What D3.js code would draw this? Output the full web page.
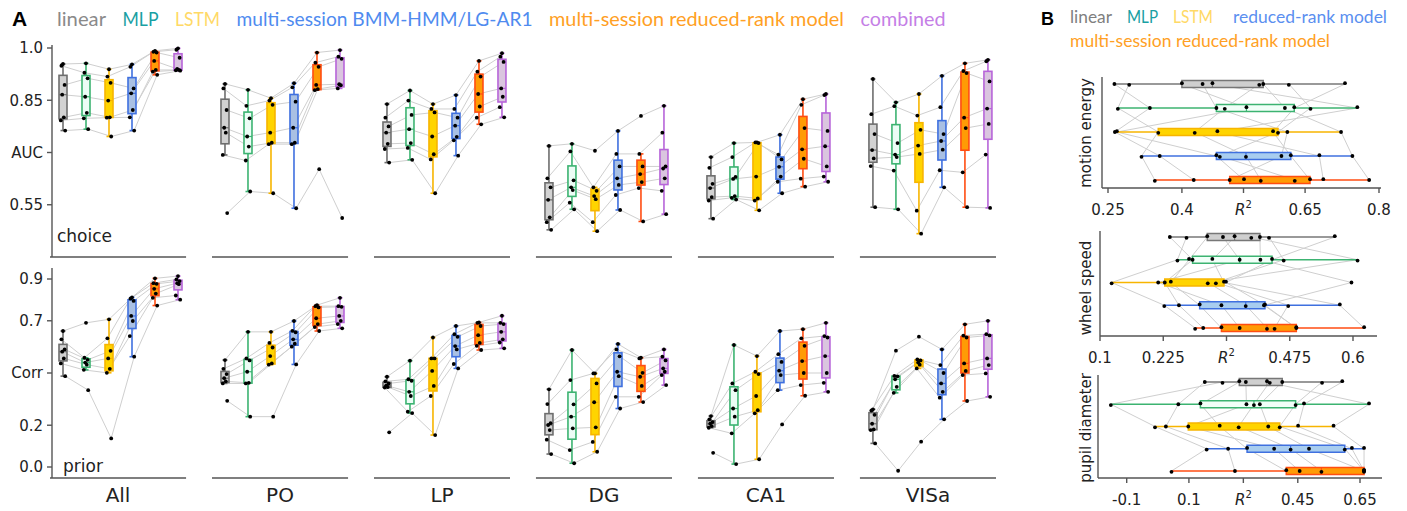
<!DOCTYPE html>
<html><head><meta charset="utf-8">
<script src="https://cdn.jsdelivr.net/npm/d3@7"></script>
<style>body{margin:0;background:#fff}svg{display:block}</style>
</head><body>
<svg id="c" width="1407" height="511"></svg>
<script>
// ---------------- DATA ----------------
const models = ["linear","MLP","LSTM","multi-session BMM-HMM/LG-AR1","multi-session reduced-rank model","combined"];
const regions = ["All","PO","LP","DG","CA1","VISa"];

// choice AUC: per region, 6 models x 7 sessions
const choice_All = [
 [.954,.949,.894,.866,.801,.792,.763],
 [.956,.929,.913,.86,.814,.798,.767],
 [.939,.918,.900,.849,.801,.800,.746],
 [.953,.946,.884,.870,.822,.801,.763],
 [.992,.989,.987,.963,.937,.932,.923],
 [.999,.995,.972,.94,.937,.936,.935]];
const choice_PO = [
 [.897,.884,.822,.771,.757,.693,.526],
 [.88,.834,.798,.746,.717,.677,.588],
 [.856,.849,.837,.757,.728,.724,.583],
 [.899,.887,.846,.771,.728,.724,.54],
 [.987,.958,.946,.894,.882,.879,.652],
 [.994,.975,.969,.896,.893,.884,.512]];
const choice_LP = [
 [.839,.80,.775,.757,.725,.71,.671],
 [.878,.849,.808,.767,.727,.713,.679],
 [.839,.825,.815,.746,.695,.68,.583],
 [.865,.825,.80,.777,.745,.735,.691],
 [.963,.932,.918,.868,.832,.80,.781],
 [.985,.975,.96,.884,.86,.83,.801]];
const choice_DG = [
 [.719,.626,.60,.564,.514,.50,.478],
 [.725,.703,.62,.60,.592,.556,.537],
 [.705,.60,.59,.575,.566,.50,.474],
 [.762,.696,.66,.626,.607,.578,.535],
 [.805,.696,.66,.638,.615,.598,.502],
 [.834,.757,.66,.654,.626,.59,.523]];
const choice_CA1 = [
 [.687,.656,.61,.598,.572,.562,.51],
 [.727,.687,.630,.624,.575,.570,.565],
 [.729,.729,.727,.631,.568,.562,.534],
 [.751,.694,.68,.659,.631,.616,.583],
 [.853,.837,.77,.709,.682,.625,.602],
 [.868,.865,.762,.718,.66,.631,.616]];
const choice_VISa = [
 [.911,.81,.753,.707,.683,.661,.543],
 [.844,.833,.727,.694,.687,.648,.537],
 [.868,.806,.765,.72,.696,.533,.467],
 [.92,.83,.753,.733,.708,.649,.60],
 [.956,.934,.928,.80,.77,.643,.543],
 [.966,.962,.904,.826,.782,.694,.541]];

// prior correlation
const prior_All = [
 [.651,.611,.563,.552,.52,.496,.435],
 [.69,.523,.513,.50,.49,.465,.368],
 [.707,.616,.556,.52,.47,.451,.137],
 [.812,.806,.795,.723,.699,.627,.528],
 [.903,.88,.877,.853,.83,.81,.773],
 [.914,.898,.89,.88,.875,.821,.801]];
const prior_PO = [
 [.512,.47,.445,.425,.41,.40,.317],
 [.647,.52,.51,.456,.403,.40,.241],
 [.647,.594,.572,.531,.496,.49,.241],
 [.699,.652,.645,.611,.59,.576,.491],
 [.775,.77,.764,.712,.684,.67,.651],
 [.81,.77,.767,.723,.70,.684,.664]];
const prior_LP = [
 [.432,.41,.40,.39,.383,.38,.166],
 [.509,.42,.413,.36,.34,.265,.258],
 [.62,.52,.52,.46,.388,.34,.153],
 [.675,.636,.623,.579,.563,.493,.472],
 [.692,.69,.675,.631,.594,.58,.56],
 [.724,.69,.684,.647,.611,.596,.568]];
const prior_DG = [
 [.372,.301,.21,.201,.177,.131,.062],
 [.56,.416,.30,.241,.185,.081,.018],
 [.448,.448,.40,.31,.19,.12,.073],
 [.589,.563,.53,.456,.435,.336,.28],
 [.523,.52,.451,.432,.388,.336,.311],
 [.563,.528,.51,.472,.456,.44,.392]];
const prior_CA1 = [
 [.244,.228,.215,.207,.196,.188,.068],
 [.584,.40,.368,.28,.241,.161,.014],
 [.531,.456,.445,.34,.272,.257,.037],
 [.651,.54,.503,.461,.44,.368,.204],
 [.66,.616,.58,.507,.45,.392,.341],
 [.69,.627,.62,.531,.45,.403,.36]];
const prior_VISa = [
 [.276,.27,.25,.207,.18,.177,.113],
 [.557,.436,.434,.42,.384,.355,-.018],
 [.624,.515,.51,.50,.49,.472,.121],
 [.563,.488,.45,.40,.36,.332,.228],
 [.683,.629,.62,.496,.46,.44,.316],
 [.70,.636,.63,.52,.488,.448,.336]];

const choiceTicks = [0.55, 0.7, 0.85, 1.0];
const choiceTickLabels = ["0.55","AUC","0.85","1.0"];
const priorTicks = [0.0, 0.2, 0.45, 0.7, 0.9];
const priorTickLabels = ["0.0","0.2","Corr","0.7","0.9"];

// Panel B
const bModels = ["linear","MLP","LSTM","reduced-rank model","multi-session reduced-rank model"];
const motionEnergy = [
 [.263,.293,.40,.442,.462,.557,.565,.617,.731],
 [.335,.27,.531,.47,.756,.487,.609,.661,.628],
 [.264,.352,.268,.614,.472,.426,.723,.595,.585],
 [.355,.318,.47,.602,.679,.53,.746,.477,.621],
 [.424,.345,.526,.497,.687,.56,.78,.629,.66]];
const wheelSpeed = [
 [.238,.271,.312,.343,.366,.399,.416,.434,.564],
 [.283,.253,.276,.376,.322,.609,.417,.463,.44],
 [.228,.123,.24,.215,.345,.313,.597,.329,.349],
 [.256,.227,.297,.34,.574,.388,.424,.472,.426],
 [.304,.288,.34,.376,.622,.43,.488,.445,.488]];
const pupilDiameter = [
 [.151,.208,.262,.283,.351,.36,.40,.528,.593],
 [.066,-.151,.137,.285,.679,.309,.328,.443,.47],
 [.026,-.009,.199,.098,.565,.26,.355,.392,.451],
 [.226,.157,.287,.374,.663,.427,.486,.601,.624],
 [.248,.044,.413,.456,.663,.526,.663,.663,.663]];
const meTicks = [0.25, 0.4, 0.525, 0.65, 0.8];
const meTickLabels = ["0.25","0.4","R2","0.65","0.8"];
const wsTicks = [0.1, 0.225, 0.35, 0.475, 0.6];
const wsTickLabels = ["0.1","0.225","R2","0.475","0.6"];
const pdTicks = [-0.1, 0.1, 0.275, 0.45, 0.65];
const pdTickLabels = ["-0.1","0.1","R2","0.45","0.65"];

// ---------------- STYLES ----------------
const legendColorsA = ["#8a8a8a","#19a0a3","#ffd966","#4f8bef","#ffa024","#c57fe6"];
const legendWidthsA = [49,36,45,296,295,85];
const boxFill = ["#d2d2d2","#ecfdf6","#ffd400","#a9c0e3","#ff9b05","#dac5df"];
const boxStroke = ["#6e6e6e","#3cb371","#f7b500","#3f70df","#ff4d12","#b765d9"];
const bLegendColors = ["#7f7f7f","#19a0a3","#ffd966","#5b8ff0","#ffa024"];
const bBoxFill = ["#cfcfcf","#f1fff8","#ffd400","#a8cdef","#ff9b05"];
const bBoxStroke = ["#777777","#3cb371","#f7b500","#3f70df","#ff4d12"];
const jit = [0,-1.6,1.6,-0.8,0.8,-2.2,2.2];

const svg = d3.select("#c");
const FONT = "DejaVu Sans";

function stats(vals){
  const s = vals.slice().sort(d3.ascending);
  const q1 = d3.quantile(s,.25), med = d3.quantile(s,.5), q3 = d3.quantile(s,.75);
  const iqr = q3-q1;
  const lo = d3.min(s.filter(v=>v>=q1-1.5*iqr));
  const hi = d3.max(s.filter(v=>v<=q3+1.5*iqr));
  return {q1,med,q3,lo,hi};
}

// ---------------- PANEL A ----------------
svg.append("text").attr("x",12).attr("y",26).attr("font-family","Liberation Sans")
  .attr("font-weight","bold").attr("font-size",21).attr("fill","#000").text("A");
let lx = 57;
models.forEach((m,i)=>{
  svg.append("text").attr("x",lx).attr("y",26).attr("font-family","Lato")
    .attr("font-size",20).attr("fill",legendColorsA[i])
    .attr("textLength",legendWidthsA[i]).attr("lengthAdjust","spacingAndGlyphs").text(m);
  lx += legendWidthsA[i] + 16.5;
});

const regionBand = d3.scaleBand().domain(regions).range([50,996]).paddingInner(0.16);
const modelPos = d3.scalePoint().domain(models).range([13,128]);

const rowsA = [
  {data:{All:choice_All,PO:choice_PO,LP:choice_LP,DG:choice_DG,CA1:choice_CA1,VISa:choice_VISa},
   y:d3.scaleLinear().domain([0.4,1.0]).range([257,48]), ticks:choiceTicks, labels:choiceTickLabels,
   top:45, base:257, title:"choice", tx:57, ty:242},
  {data:{All:prior_All,PO:prior_PO,LP:prior_LP,DG:prior_DG,CA1:prior_CA1,VISa:prior_VISa},
   y:d3.scaleLinear().domain([0,0.9]).range([467,279]), ticks:priorTicks, labels:priorTickLabels,
   top:268, base:478, title:"prior", tx:63, ty:472}
];

rowsA.forEach(row=>{
  const g = svg.append("g");
  g.append("line").attr("x1",52).attr("x2",52).attr("y1",row.top).attr("y2",row.base)
    .attr("stroke","#555").attr("stroke-width",1.4);
  row.ticks.forEach((t,i)=>{
    g.append("line").attr("x1",47).attr("x2",52).attr("y1",row.y(t)).attr("y2",row.y(t))
      .attr("stroke","#555").attr("stroke-width",1.4);
    g.append("text").attr("x",43).attr("y",row.y(t)).attr("dy","0.36em").attr("text-anchor","end")
      .attr("font-family",FONT).attr("font-size",15).attr("fill","#222").text(row.labels[i]);
  });
  g.append("text").attr("x",row.tx).attr("y",row.ty).attr("font-family",FONT)
    .attr("font-size",17).attr("fill","#222").text(row.title);
  regions.forEach(r=>{
    const gx = regionBand(r);
    g.append("line").attr("x1",gx).attr("x2",gx+regionBand.bandwidth()).attr("y1",row.base).attr("y2",row.base)
      .attr("stroke","#555").attr("stroke-width",1.4);
    const data = row.data[r];
    const n = data[0].length;
    const px = (mi,i)=> gx + modelPos(models[mi]) + jit[i%jit.length];
    const line = d3.line();
    for(let i=0;i<n;i++){
      g.append("path").attr("d", line(data.map((vals,mi)=>[px(mi,i), row.y(vals[i])])))
        .attr("fill","none").attr("stroke","#cfcfcf").attr("stroke-width",1);
    }
    data.forEach((vals,mi)=>{
      const s = stats(vals);
      const cx = gx + modelPos(models[mi]);
      const w = 8, cw = 5;
      g.append("line").attr("x1",cx).attr("x2",cx).attr("y1",row.y(s.lo)).attr("y2",row.y(s.hi))
        .attr("stroke",boxStroke[mi]).attr("stroke-width",1.6);
      [s.lo,s.hi].forEach(v=> g.append("line").attr("x1",cx-cw/2).attr("x2",cx+cw/2)
        .attr("y1",row.y(v)).attr("y2",row.y(v)).attr("stroke",boxStroke[mi]).attr("stroke-width",1.6));
      g.append("rect").attr("x",cx-w/2).attr("width",w).attr("y",row.y(s.q3))
        .attr("height",Math.max(0.5,row.y(s.q1)-row.y(s.q3)))
        .attr("fill",boxFill[mi]).attr("stroke",boxStroke[mi]).attr("stroke-width",1.6);
      g.append("line").attr("x1",cx-w/2).attr("x2",cx+w/2).attr("y1",row.y(s.med)).attr("y2",row.y(s.med))
        .attr("stroke",boxStroke[mi]).attr("stroke-width",1.2);
    });
    data.forEach((vals,mi)=>{
      vals.forEach((v,i)=> g.append("circle").attr("cx",px(mi,i)).attr("cy",row.y(v)).attr("r",1.9).attr("fill","#000"));
    });
  });
});
// region labels
regions.forEach(r=>{
  svg.append("text").attr("x",regionBand(r)+regionBand.bandwidth()/2).attr("y",502)
    .attr("text-anchor","middle").attr("font-family",FONT).attr("font-size",20).attr("fill","#222").text(r);
});

// ---------------- PANEL B ----------------
svg.append("text").attr("x",1041).attr("y",25).attr("font-family","Liberation Sans")
  .attr("font-weight","bold").attr("font-size",18).attr("fill","#000").text("B");
const bLegendPos = [[1070,23,42],[1127,23,31],[1173,23,40],[1233,23,154],[1070,47,260]];
bModels.forEach((m,i)=>{
  svg.append("text").attr("x",bLegendPos[i][0]).attr("y",bLegendPos[i][1]).attr("font-family","Lato")
    .attr("font-size",17.5).attr("fill",bLegendColors[i])
    .attr("textLength",bLegendPos[i][2]).attr("lengthAdjust","spacingAndGlyphs").text(m);
});

const subB = [
  {data:motionEnergy, ticks:meTicks, labels:meTickLabels, x:d3.scaleLinear().domain([0.25,0.8]).range([1108,1379]),
   ax0:1102, ax1:1381, top:77, axisY:188, r0:84, r1:180, label:"motion energy", ly:133},
  {data:wheelSpeed, ticks:wsTicks, labels:wsTickLabels, x:d3.scaleLinear().domain([0.1,0.6]).range([1100,1353]),
   ax0:1100, ax1:1377, top:231, axisY:336, r0:237, r1:328, label:"wheel speed", ly:288},
  {data:pupilDiameter, ticks:pdTicks, labels:pdTickLabels, x:d3.scaleLinear().domain([-0.1,0.65]).range([1126.7,1360]),
   ax0:1098, ax1:1382, top:375, axisY:478, r0:382, r1:471, label:"pupil diameter", ly:428}
];

subB.forEach(sp=>{
  const g = svg.append("g");
  const yPos = d3.scalePoint().domain(bModels).range([sp.r0,sp.r1]);
  g.append("line").attr("x1",sp.ax0).attr("x2",sp.ax0).attr("y1",sp.top).attr("y2",sp.axisY)
    .attr("stroke","#555").attr("stroke-width",1.4);
  g.append("line").attr("x1",sp.ax0).attr("x2",sp.ax1).attr("y1",sp.axisY).attr("y2",sp.axisY)
    .attr("stroke","#555").attr("stroke-width",1.4);
  sp.ticks.forEach((t,i)=>{
    const x = sp.x(t);
    g.append("line").attr("x1",x).attr("x2",x).attr("y1",sp.axisY).attr("y2",sp.axisY+5)
      .attr("stroke","#555").attr("stroke-width",1.4);
    const tx = g.append("text").attr("x",x).attr("y",sp.axisY+27).attr("text-anchor","middle")
      .attr("font-family",FONT).attr("font-size",15).attr("fill","#222");
    if(sp.labels[i]==="R2"){
      tx.append("tspan").attr("font-style","italic").text("R");
      tx.append("tspan").attr("dy",-7).attr("font-size",10).text("2");
    } else tx.text(sp.labels[i]);
  });
  g.append("text").attr("transform",`translate(${1091},${sp.ly}) rotate(-90)`).attr("text-anchor","middle")
    .attr("font-family",FONT).attr("font-size",15).attr("fill","#222").text(sp.label);
  const n = sp.data[0].length;
  const line = d3.line();
  for(let i=0;i<n;i++){
    g.append("path").attr("d", line(sp.data.map((vals,mi)=>[sp.x(vals[i]), yPos(bModels[mi])])))
      .attr("fill","none").attr("stroke","#cfcfcf").attr("stroke-width",1);
  }
  sp.data.forEach((vals,mi)=>{
    const s = stats(vals);
    const cy = yPos(bModels[mi]);
    const h = 7;
    g.append("line").attr("x1",sp.x(s.lo)).attr("x2",sp.x(s.hi)).attr("y1",cy).attr("y2",cy)
      .attr("stroke",bBoxStroke[mi]).attr("stroke-width",1.6);
    g.append("rect").attr("x",sp.x(s.q1)).attr("width",sp.x(s.q3)-sp.x(s.q1)).attr("y",cy-h/2).attr("height",h)
      .attr("fill",bBoxFill[mi]).attr("stroke",bBoxStroke[mi]).attr("stroke-width",1.5);
    g.append("line").attr("x1",sp.x(s.med)).attr("x2",sp.x(s.med)).attr("y1",cy-h/2).attr("y2",cy+h/2)
      .attr("stroke",bBoxStroke[mi]).attr("stroke-width",1.2);
  });
  sp.data.forEach((vals,mi)=>{
    const cy = yPos(bModels[mi]);
    vals.forEach((v,i)=> g.append("circle").attr("cx",sp.x(v)).attr("cy",cy+(i%2?0.8:-0.8)*((i%3===0)?0:1))
      .attr("r",1.9).attr("fill","#000"));
  });
});
</script></body></html>
